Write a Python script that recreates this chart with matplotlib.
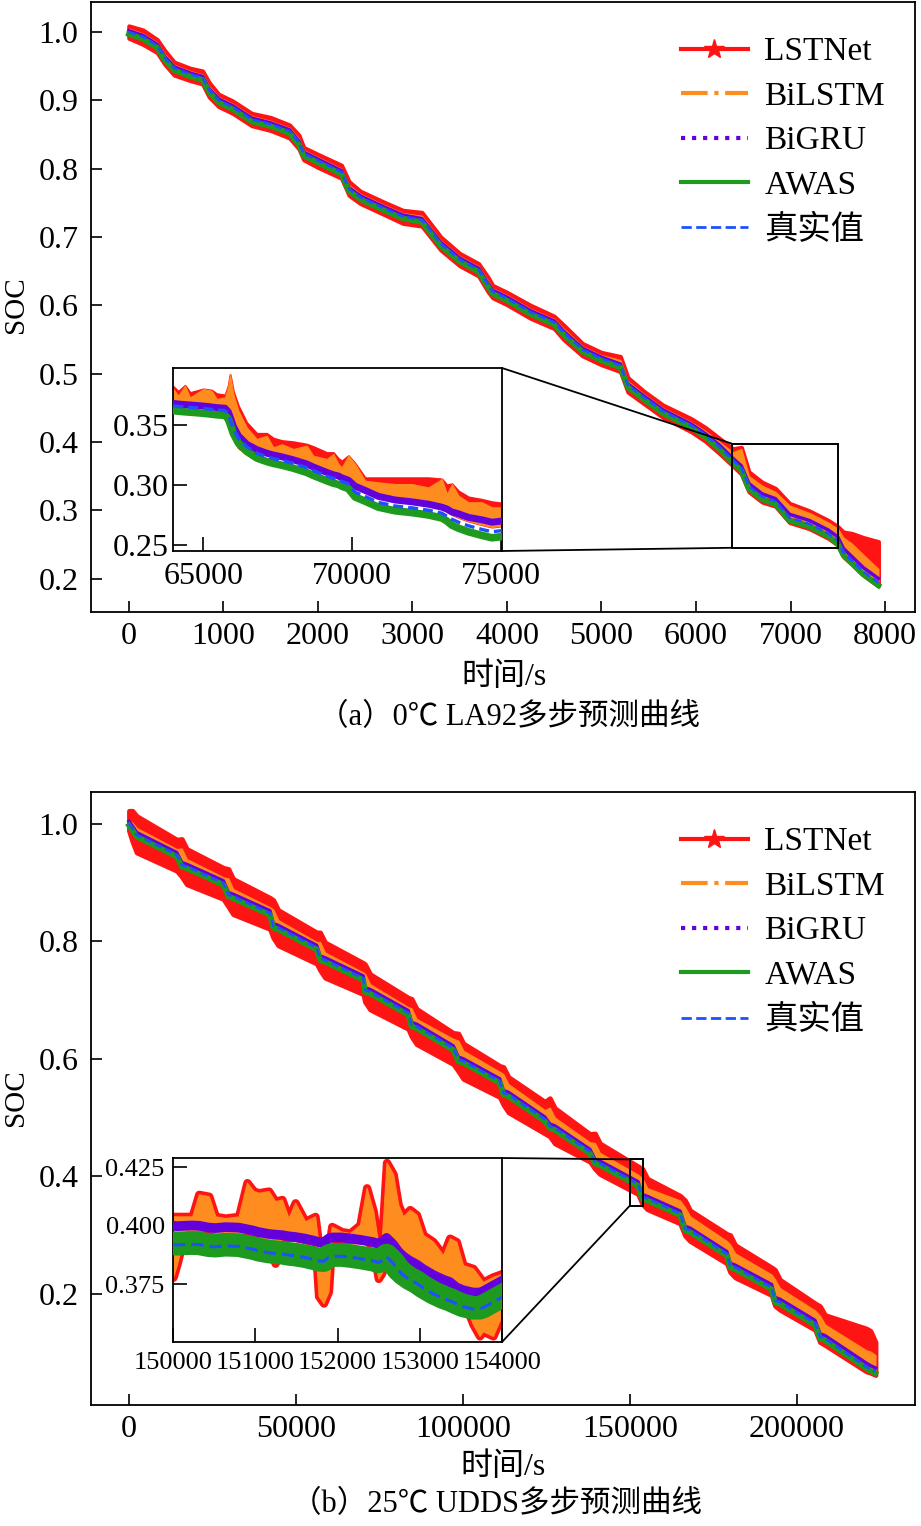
import numpy as np
import matplotlib.pyplot as plt
from matplotlib.lines import Line2D
from matplotlib.patches import Rectangle, ConnectionPatch

plt.rcParams['font.family'] = ['Liberation Serif', 'Noto Sans CJK SC']

RED = '#ff1414'
ORANGE = '#ff8c1e'
PURPLE = '#6400dc'
GREEN = '#1e9a1e'
BLUE = '#1e50ff'

# ---------------- (a) 0C LA92, main curve ----------------
a_t = [0, 150, 300, 380, 480, 650, 780, 850, 950, 1100,
       1300, 1500, 1700, 1800, 1850, 2000, 2250, 2330, 2450, 2700,
       2900, 3100, 3300, 3500, 3700, 3800, 3850, 4000, 4250, 4500,
       4600, 4800, 5000, 5200, 5280, 5450, 5650, 5950, 6100, 6250,
       6390, 6480, 6560, 6700, 6840, 6990, 7200, 7400, 7500, 7560,
       7650, 7770, 7930]
a_true = [1.000, 0.993, 0.980, 0.962, 0.947, 0.938, 0.933, 0.915, 0.900, 0.890,
          0.872, 0.865, 0.855, 0.838, 0.822, 0.812, 0.795, 0.770, 0.758, 0.742,
          0.730, 0.725, 0.690, 0.667, 0.652, 0.630, 0.620, 0.610, 0.590, 0.575,
          0.560, 0.535, 0.522, 0.512, 0.483, 0.465, 0.445, 0.424, 0.410, 0.392,
          0.373, 0.362, 0.335, 0.320, 0.313, 0.289, 0.280, 0.266, 0.255, 0.238,
          0.226, 0.210, 0.194]
# model errors (prediction - true), upper / lower edges of the noisy traces
a_lstnet_hi = [0.009, 0.010, 0.009, 0.011, 0.009, 0.009, 0.010, 0.011, 0.009, 0.009,
               0.009, 0.010, 0.009, 0.011, 0.009, 0.009, 0.010, 0.011, 0.009, 0.009,
               0.009, 0.011, 0.010, 0.009, 0.009, 0.011, 0.009, 0.009, 0.010, 0.009,
               0.011, 0.009, 0.009, 0.013, 0.011, 0.009, 0.009, 0.010, 0.011, 0.013,
               0.017, 0.030, 0.021, 0.021, 0.019, 0.021, 0.019, 0.019, 0.021, 0.030,
               0.040, 0.050, 0.060]
a_lstnet_lo = [-0.009, -0.011, -0.010, -0.009, -0.010, -0.009, -0.009, -0.010, -0.009, -0.009,
               -0.009, -0.009, -0.010, -0.009, -0.009, -0.010, -0.009, -0.009, -0.009, -0.009,
               -0.010, -0.009, -0.009, -0.009, -0.009, -0.010, -0.009, -0.009, -0.009, -0.009,
               -0.010, -0.009, -0.009, -0.009, -0.010, -0.009, -0.009, -0.009, -0.009, -0.009,
               -0.008, -0.009, -0.008, -0.008, -0.007, -0.007, -0.007, -0.007, -0.006, -0.006,
               -0.005, -0.005, -0.005]
a_bilstm_hi = [0.005, 0.005, 0.005, 0.006, 0.005, 0.005, 0.005, 0.006, 0.005, 0.005,
               0.005, 0.005, 0.005, 0.006, 0.005, 0.005, 0.005, 0.006, 0.005, 0.005,
               0.005, 0.006, 0.005, 0.005, 0.005, 0.006, 0.005, 0.005, 0.005, 0.005,
               0.006, 0.005, 0.005, 0.008, 0.006, 0.005, 0.005, 0.005, 0.006, 0.008,
               0.012, 0.028, 0.015, 0.016, 0.014, 0.018, 0.016, 0.016, 0.018, 0.022,
               0.025, 0.025, 0.020]
a_bigru = [0.002, 0.002, 0.002, 0.002, 0.002, 0.002, 0.002, 0.002, 0.002, 0.002,
           0.002, 0.002, 0.002, 0.002, 0.002, 0.002, 0.002, 0.002, 0.002, 0.002,
           0.002, 0.002, 0.002, 0.002, 0.002, 0.002, 0.002, 0.002, 0.002, 0.002,
           0.002, 0.002, 0.002, 0.002, 0.002, 0.002, 0.002, 0.002, 0.002, 0.003,
           0.003, 0.003, 0.004, 0.004, 0.004, 0.005, 0.005, 0.005, 0.006, 0.006,
           0.006, 0.006, 0.006]
a_awas = [-0.003, -0.003, -0.003, -0.003, -0.003, -0.003, -0.003, -0.003, -0.003, -0.003,
          -0.003, -0.003, -0.003, -0.003, -0.003, -0.003, -0.003, -0.003, -0.003, -0.003,
          -0.003, -0.003, -0.003, -0.003, -0.003, -0.003, -0.003, -0.003, -0.003, -0.003,
          -0.003, -0.003, -0.003, -0.003, -0.003, -0.003, -0.003, -0.003, -0.003, -0.003,
          -0.004, -0.004, -0.004, -0.004, -0.004, -0.004, -0.004, -0.004, -0.004, -0.004,
          -0.004, -0.004, -0.004]

# ---------------- (a) inset ----------------
ain_t = [63990, 64158, 64384, 64552, 65000, 65283, 65451, 65731, 65840, 65900,
         66010, 66178, 66460, 66800, 67135, 67357, 67640, 68030, 68480, 68700,
         69155, 69377, 69545, 69660, 69882, 70108, 70444, 70892, 71454, 72017,
         72576, 73027, 73195, 73364, 73586, 73923, 74374, 74710, 75047]
ain_true = [0.3660, 0.3655, 0.3650, 0.3647, 0.3638, 0.3630, 0.3625, 0.3620, 0.3590, 0.3550,
            0.3470, 0.3390, 0.3320, 0.3265, 0.3235, 0.3220, 0.3205, 0.3180, 0.3145, 0.3120,
            0.3075, 0.3055, 0.3045, 0.3030, 0.3010, 0.2940, 0.2905, 0.2855, 0.2825, 0.2810,
            0.2790, 0.2765, 0.2740, 0.2715, 0.2690, 0.2660, 0.2630, 0.2610, 0.2620]
ain_lstnet_top = [0.382, 0.378, 0.383, 0.377, 0.380, 0.379, 0.376, 0.375, 0.383, 0.392,
                  0.378, 0.366, 0.352, 0.343, 0.343, 0.339, 0.337, 0.336, 0.334, 0.332,
                  0.327, 0.327, 0.322, 0.320, 0.3244, 0.318, 0.306, 0.306, 0.306, 0.306,
                  0.306, 0.305, 0.300, 0.301, 0.295, 0.290, 0.288, 0.286, 0.285]
ain_bilstm_top = [0.3800, 0.3744, 0.3828, 0.3730, 0.3800, 0.3786, 0.3717, 0.3730, 0.3830, 0.3920,
                  0.3760, 0.3620, 0.3480, 0.3383, 0.3410, 0.3314, 0.3340, 0.3300, 0.3328, 0.3244,
                  0.3217, 0.3258, 0.3175, 0.3147, 0.3244, 0.3175, 0.3036, 0.3022, 0.3008, 0.3008,
                  0.2980, 0.3050, 0.2925, 0.3008, 0.2911, 0.2856, 0.2856, 0.2814, 0.2814]
ain_lstnet_lo = [0.004, 0.004, 0.004, 0.004, 0.004, 0.004, 0.004, 0.004, -0.004, -0.008,
                 -0.008, -0.008, -0.006, -0.002, 0.004, 0.004, 0.004, 0.004, 0.004, 0.004,
                 0.004, 0.004, 0.004, 0.004, 0.004, 0.004, 0.004, 0.004, 0.004, 0.004,
                 0.004, 0.004, 0.004, 0.004, 0.004, 0.004, 0.004, 0.004, 0.004]
ain_bigru = [0.002, 0.002, 0.002, 0.002, 0.002, 0.002, 0.002, 0.002, 0.002, 0.002,
             0.002, 0.002, 0.002, 0.003, 0.003, 0.003, 0.003, 0.003, 0.003, 0.003,
             0.003, 0.003, 0.003, 0.003, 0.003, 0.005, 0.005, 0.005, 0.005, 0.005,
             0.005, 0.005, 0.006, 0.006, 0.007, 0.007, 0.008, 0.008, 0.008]
ain_awas = [-0.004, -0.004, -0.004, -0.004, -0.004, -0.004, -0.004, -0.004, -0.004, -0.004,
            -0.004, -0.004, -0.004, -0.004, -0.004, -0.004, -0.004, -0.004, -0.004, -0.004,
            -0.004, -0.004, -0.004, -0.004, -0.004, -0.004, -0.004, -0.004, -0.004, -0.004,
            -0.004, -0.004, -0.004, -0.005, -0.005, -0.005, -0.005, -0.005, -0.005]

# ---------------- (b) 25C UDDS, main curve ----------------
b_t = [0, 1000, 2300, 14300, 15800, 17300, 28250, 29750, 31200, 42200,
       43200, 44700, 56200, 57200, 58700, 70150, 70650, 72200, 83600, 84600,
       86100, 97100, 98600, 100100, 111000, 112100, 113600, 124500, 126000, 127500,
       138000, 139500, 141000, 152400, 153700, 155200, 165000, 166500, 168000, 179000,
       180000, 181500, 192400, 193400, 194900, 205400, 206900, 208400, 220800, 222000,
       223500]
b_true = [1.000, 0.992, 0.981, 0.947, 0.930, 0.927, 0.899, 0.879, 0.876, 0.848,
          0.826, 0.823, 0.789, 0.771, 0.768, 0.737, 0.717, 0.714, 0.678, 0.658,
          0.655, 0.618, 0.599, 0.596, 0.562, 0.542, 0.539, 0.497, 0.485, 0.482,
          0.442, 0.425, 0.422, 0.387, 0.365, 0.362, 0.337, 0.311, 0.308, 0.268,
          0.248, 0.245, 0.211, 0.189, 0.186, 0.150, 0.127, 0.124, 0.076, 0.072,
          0.068]
b_lstnet_hi = [0.022, 0.030, 0.032, 0.026, 0.044, 0.030, 0.026, 0.044, 0.030, 0.026,
               0.044, 0.030, 0.026, 0.044, 0.030, 0.026, 0.044, 0.030, 0.026, 0.044,
               0.030, 0.026, 0.044, 0.030, 0.026, 0.044, 0.030, 0.030, 0.048, 0.034,
               0.030, 0.048, 0.034, 0.030, 0.048, 0.034, 0.030, 0.048, 0.034, 0.034,
               0.052, 0.038, 0.034, 0.052, 0.038, 0.034, 0.052, 0.040, 0.065, 0.065,
               0.050]
b_lstnet_lo = [-0.012, -0.022, -0.030, -0.027, -0.020, -0.030, -0.027, -0.020, -0.030, -0.027,
               -0.020, -0.030, -0.027, -0.020, -0.030, -0.027, -0.020, -0.030, -0.027, -0.020,
               -0.030, -0.027, -0.020, -0.030, -0.027, -0.020, -0.030, -0.024, -0.017, -0.026,
               -0.017, -0.012, -0.018, -0.017, -0.012, -0.018, -0.017, -0.012, -0.018, -0.016,
               -0.011, -0.017, -0.013, -0.009, -0.013, -0.011, -0.009, -0.011, -0.008, -0.006,
               -0.006]
b_bilstm_hi = [0.005, 0.010, 0.012, 0.010, 0.028, 0.013, 0.010, 0.028, 0.013, 0.010,
               0.028, 0.013, 0.010, 0.028, 0.013, 0.010, 0.028, 0.013, 0.010, 0.028,
               0.013, 0.016, 0.032, 0.018, 0.016, 0.032, 0.018, 0.016, 0.032, 0.018,
               0.016, 0.032, 0.018, 0.016, 0.032, 0.018, 0.022, 0.036, 0.024, 0.022,
               0.036, 0.024, 0.022, 0.036, 0.024, 0.022, 0.036, 0.024, 0.028, 0.030,
               0.028]
b_bigru = [0.004, 0.004, 0.004, 0.004, 0.004, 0.004, 0.004, 0.004, 0.004, 0.004,
           0.004, 0.004, 0.004, 0.004, 0.004, 0.004, 0.004, 0.004, 0.004, 0.004,
           0.004, 0.004, 0.004, 0.004, 0.004, 0.004, 0.004, 0.004, 0.004, 0.004,
           0.004, 0.004, 0.004, 0.004, 0.004, 0.004, 0.004, 0.004, 0.004, 0.004,
           0.004, 0.004, 0.005, 0.005, 0.005, 0.005, 0.005, 0.005, 0.006, 0.006,
           0.006]
b_awas = [-0.003, -0.003, -0.003, -0.003, -0.003, -0.003, -0.003, -0.003, -0.003, -0.003,
          -0.003, -0.003, -0.003, -0.003, -0.003, -0.003, -0.003, -0.003, -0.003, -0.003,
          -0.003, -0.003, -0.003, -0.003, -0.003, -0.003, -0.003, -0.003, -0.003, -0.003,
          -0.003, -0.003, -0.003, -0.003, -0.003, -0.003, -0.003, -0.003, -0.003, -0.003,
          -0.003, -0.003, -0.003, -0.003, -0.003, -0.003, -0.003, -0.003, -0.003, -0.003,
          -0.003]

# ---------------- (b) inset ----------------
bin_t = [150000, 150051, 150150, 150233, 150313, 150435, 150515, 150636, 150798, 150899,
         150980, 151041, 151162, 151242, 151324, 151405, 151485, 151606, 151727, 151770,
         151830, 151890, 151930, 152050, 152152, 152273, 152354, 152435, 152496, 152540,
         152596, 152677, 152738, 152798, 152879, 152960, 153041, 153162, 153283, 153364,
         153445, 153526, 153647, 153727, 153768, 153890, 154000]
bin_true = [0.3920, 0.3918, 0.3920, 0.3921, 0.3920, 0.3912, 0.3910, 0.3914, 0.3912, 0.3905,
            0.3899, 0.3893, 0.3885, 0.3882, 0.3880, 0.3875, 0.3872, 0.3865, 0.3855, 0.3850,
            0.3848, 0.3865, 0.3870, 0.3870, 0.3866, 0.3860, 0.3855, 0.3850, 0.3843, 0.3850,
            0.3868, 0.3840, 0.3810, 0.3790, 0.3770, 0.3755, 0.3735, 0.3710, 0.3690, 0.3680,
            0.3667, 0.3655, 0.3645, 0.3645, 0.3650, 0.3674, 0.3695]
# LSTNet and BiLSTM overlap here: orange trace with a red rim around it
bin_bilstm_top = [0.4040, 0.4040, 0.4040, 0.4040, 0.4134, 0.4126, 0.4040, 0.4033, 0.4040, 0.4184,
                  0.4148, 0.4141, 0.4148, 0.4105, 0.4112, 0.4033, 0.4098, 0.4019, 0.4040, 0.3920,
                  0.3850, 0.3900, 0.3997, 0.3975, 0.3969, 0.4004, 0.4162, 0.4062, 0.3920, 0.3950,
                  0.4270, 0.4220, 0.4090, 0.4040, 0.4069, 0.4047, 0.3961, 0.3932, 0.3875, 0.3947,
                  0.3932, 0.3832, 0.3818, 0.3780, 0.3760, 0.3782, 0.3796]
bin_bilstm_bot = [0.378, 0.384, 0.398, 0.398, 0.398, 0.398, 0.397, 0.397, 0.397, 0.397,
                  0.397, 0.396, 0.391, 0.384, 0.395, 0.395, 0.395, 0.394, 0.393, 0.370,
                  0.367, 0.372, 0.394, 0.394, 0.394, 0.394, 0.394, 0.390, 0.3775, 0.380,
                  0.390, 0.389, 0.385, 0.382, 0.381, 0.380, 0.378, 0.376, 0.374, 0.373,
                  0.371, 0.369, 0.358, 0.353, 0.355, 0.353, 0.362]
bin_bigru = [0.008, 0.008, 0.008, 0.008, 0.008, 0.008, 0.008, 0.008, 0.008, 0.008,
             0.008, 0.008, 0.008, 0.008, 0.008, 0.008, 0.008, 0.008, 0.008, 0.008,
             0.008, 0.008, 0.008, 0.008, 0.008, 0.008, 0.008, 0.008, 0.008, 0.008,
             0.008, 0.008, 0.008, 0.008, 0.008, 0.008, 0.008, 0.008, 0.008, 0.008,
             0.007, 0.007, 0.007, 0.007, 0.007, 0.007, 0.007]
bin_awas = [0.0005, 0.0005, 0.0005, 0.0005, 0.0005, 0.0005, 0.0005, 0.0005, 0.0005, 0.0005,
            0.0005, 0.0005, 0.0005, 0.0005, 0.0005, 0.0005, 0.0005, 0.0005, 0.0005, 0.0005,
            0.0005, 0.0005, 0.0005, 0.0005, 0.0005, 0.0005, 0.0005, 0.0005, 0.0005, 0.0005,
            0.0005, 0.0005, 0.0005, 0.0005, 0.0005, 0.0005, 0.0005, 0.0005, 0.0005, 0.0005,
            0.0005, 0.0005, 0.0005, 0.0005, 0.0005, 0.0005, 0.0005]

labels = ['LSTNet', 'BiLSTM', 'BiGRU', 'AWAS', '真实值']


def style(ax, size, xpad, ypad, length):
    ax.tick_params(direction='in', top=False, right=False, labelsize=size,
                   length=length, width=1.2)
    ax.tick_params(axis='x', pad=xpad)
    ax.tick_params(axis='y', pad=ypad)
    for s in ax.spines.values():
        s.set_linewidth(1.3)


def traces(ax, t, true, lst_lo, lst_hi, bil_lo, bil_hi, gru, awas,
           red_edge, gru_lw, awas_lw, true_lw, dash):
    t = np.array(t)
    ax.fill_between(t, lst_lo, lst_hi, facecolor=RED, edgecolor=RED,
                    linewidth=red_edge, zorder=1)
    ax.fill_between(t, bil_lo, bil_hi, facecolor=ORANGE, edgecolor=ORANGE,
                    linewidth=0.8, zorder=2)
    ax.plot(t, gru, color=PURPLE, lw=gru_lw, zorder=3)
    ax.plot(t, awas, color=GREEN, lw=awas_lw, zorder=4)
    ax.plot(t, true, color=BLUE, lw=true_lw, ls=(0, dash), zorder=5)


def add_legend(ax):
    handles = [Line2D([], [], color=RED, lw=3, marker='*', markersize=15),
               Line2D([], [], color=ORANGE, lw=3, ls='-.'),
               Line2D([], [], color=PURPLE, lw=3, ls=':'),
               Line2D([], [], color=GREEN, lw=3),
               Line2D([], [], color=BLUE, lw=2, ls='--')]
    ax.legend(handles, labels, loc='upper left', bbox_to_anchor=(0.716, 0.943),
              frameon=False, fontsize=24, handlelength=2.0, handletextpad=0.5,
              labelspacing=0.42, borderaxespad=0, borderpad=0, numpoints=1)


def zoom_lines(fig, ax, axin, x0, x1, y0, y1):
    ax.add_patch(Rectangle((x0, y0), x1 - x0, y1 - y0, fill=False, ec='k',
                           lw=1.4, zorder=8))
    for ya, yb in [(1, y1), (0, y0)]:
        con = ConnectionPatch(xyA=(1, ya), coordsA=axin.transAxes,
                              xyB=(x0, yb), coordsB=ax.transData,
                              color='k', lw=1.3)
        fig.add_artist(con)


W, H = 921, 1526
fig = plt.figure(figsize=(W / 100, H / 100), dpi=100)


def box(x0, y0, x1, y1):
    return [x0 / W, 1 - y1 / H, (x1 - x0) / W, (y1 - y0) / H]


# ---- panel (a)
ax1 = fig.add_axes(box(91, 2, 915, 612))
at = np.array(a_true)
traces(ax1, a_t, at, at + np.array(a_lstnet_lo), at + np.array(a_lstnet_hi),
       at + 0.002, at + np.array(a_bilstm_hi), at + np.array(a_bigru),
       at + np.array(a_awas), 3.0, 2.5, 4.0, 1.8, (3, 1.5))
ax1.set_xlim(-400, 8317)
ax1.set_ylim(0.151, 1.044)
ax1.set_xticks(np.arange(0, 8001, 1000))
ax1.set_yticks([0.2, 0.3, 0.4, 0.5, 0.6, 0.7, 0.8, 0.9, 1.0])
ax1.set_yticklabels(['0.2', '0.3', '0.4', '0.5', '0.6', '0.7', '0.8', '0.9', '1.0'])
style(ax1, 23, 7, 9, 8)
add_legend(ax1)

axa = fig.add_axes(box(173, 368, 502, 551), zorder=10)
ait = np.array(ain_true)
traces(axa, ain_t, ait, ait + np.array(ain_lstnet_lo), ain_lstnet_top,
       ait + 0.004, ain_bilstm_top, ait + np.array(ain_bigru),
       ait + np.array(ain_awas), 1.5, 5, 5.5, 2.4, (3, 1.5))
axa.set_xlim(63980, 75050)
axa.set_ylim(0.245, 0.3975)
axa.set_xticks([65000, 70000, 75000])
axa.set_yticks([0.25, 0.30, 0.35])
axa.set_yticklabels(['0.25', '0.30', '0.35'])
style(axa, 23, 8, 3, 10)
zoom_lines(fig, ax1, axa, 6380, 7500, 0.245, 0.3975)

fig.text(504 / W, 1 - 677 / H, '时间/s', ha='center', va='center', fontsize=23)
fig.text(509 / W, 1 - 718 / H, '（a）0℃ LA92多步预测曲线', ha='center', va='center', fontsize=22)
fig.text(16 / W, 1 - 305 / H, 'SOC', ha='center', va='center', rotation=90, fontsize=21)

# ---- panel (b)
ax2 = fig.add_axes(box(91, 792, 915, 1405))
bt = np.array(b_true)
traces(ax2, b_t, bt, bt + np.array(b_lstnet_lo), bt + np.array(b_lstnet_hi),
       bt + 0.002, bt + np.array(b_bilstm_hi), bt + np.array(b_bigru),
       bt + np.array(b_awas), 3.5, 2.5, 4.0, 1.8, (3, 1.5))
ax2.set_xlim(-11377, 235329)
ax2.set_ylim(0.011, 1.054)
ax2.set_xticks([0, 50000, 100000, 150000, 200000])
ax2.set_yticks([0.2, 0.4, 0.6, 0.8, 1.0])
ax2.set_yticklabels(['0.2', '0.4', '0.6', '0.8', '1.0'])
style(ax2, 23, 7, 9, 8)
add_legend(ax2)

axb = fig.add_axes(box(173, 1158, 502, 1342), zorder=10)
bit = np.array(bin_true)
traces(axb, bin_t, bit, bin_bilstm_bot, bin_bilstm_top,
       bin_bilstm_bot, bin_bilstm_top, bit + np.array(bin_bigru),
       bit + np.array(bin_awas), 6.0, 7, 17, 2.2, (4, 2))
axb.set_xlim(150000, 154000)
axb.set_ylim(0.3504, 0.4289)
axb.set_xticks([150000, 151000, 152000, 153000, 154000])
axb.set_yticks([0.375, 0.400, 0.425])
axb.set_yticklabels(['0.375', '0.400', '0.425'])
style(axb, 19, 7, 6, 10)
zoom_lines(fig, ax2, axb, 150000, 154000, 0.3504, 0.4289)

fig.text(503 / W, 1 - 1467 / H, '时间/s', ha='center', va='center', fontsize=23)
fig.text(496 / W, 1 - 1505 / H, '（b）25℃ UDDS多步预测曲线', ha='center', va='center', fontsize=22)
fig.text(16 / W, 1 - 1098 / H, 'SOC', ha='center', va='center', rotation=90, fontsize=21)

fig.savefig('out.png', dpi=100)
plt.close(fig)
